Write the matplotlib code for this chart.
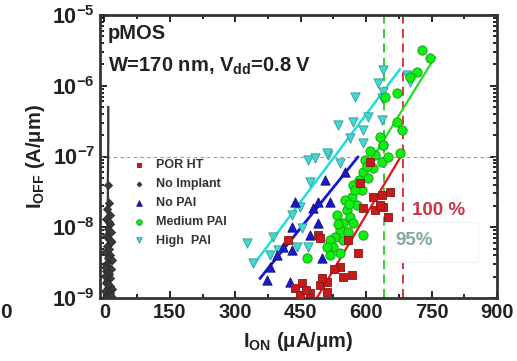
import numpy as np
import matplotlib.pyplot as plt
from matplotlib.patches import Rectangle

plt.rcParams['font.family'] = ['Liberation Sans', 'DejaVu Sans']
plt.rcParams['font.weight'] = 'bold'
plt.rcParams['mathtext.fontset'] = 'custom'
plt.rcParams['mathtext.bf'] = 'Liberation Sans:bold'
plt.rcParams['mathtext.rm'] = 'Liberation Sans:bold'

# POR HT
por_x = [421, 490, 453, 472, 495, 511, 655, 637, 616, 586, 593, 621, 639, 650, 632, 582, 540,
         568, 547, 511, 499, 559, 609, 495, 437, 449, 527, 463]
por_y = [6.6e-9, 7.8e-9, 1.63e-9, 1.18e-9, 1.53e-9, 1.22e-9, 3.15e-8, 2.86e-8, 2.68e-8, 4.2e-8,
         1.87e-8, 1.75e-8, 1.93e-8, 1.4e-8, 2.06e-8, 4.3e-9, 2.74e-9, 2.1e-9, 2.0e-9, 1.68e-9,
         1.92e-9, 6.6e-9, 8.4e-8, 7.0e-9, 1.4e-9, 1.1e-9, 2.6e-9, 1.3e-9]
# No Implant
ni_x = [9, 9, 8, 10, 6, 14, 3, 12, 8, 16, 4, 10, 15, 6, 11, 2, 13, 8, 17, 5, 9, 15, 4, 11, 1,
        14, 7, 3, 12, 9, 18, 2, 13, 6, 16, 4, 10, 15, 1, 8]
ni_y = [5e-7, 1.7e-7, 4e-8, 2.2e-8, 1.8e-8, 1.5e-8, 1.3e-8, 1.1e-8, 9.5e-9, 8.5e-9, 7.5e-9, 6.8e-9,
        6.1e-9, 5.5e-9, 5.0e-9, 4.5e-9, 4.1e-9, 3.7e-9, 3.4e-9, 3.1e-9, 2.85e-9, 2.6e-9, 2.4e-9,
        2.2e-9, 2.05e-9, 1.9e-9, 1.75e-9, 1.62e-9, 1.5e-9, 1.4e-9, 1.32e-9, 1.25e-9, 1.18e-9,
        1.12e-9, 1.08e-9, 1.04e-9, 1.2e-8, 6.3e-9, 2.7e-9, 1.6e-9]
# No PAI
np_x = [506, 437, 490, 479, 430, 472, 410, 430, 380, 396, 426, 373, 490, 552, 518, 499]
np_y = [4.7e-8, 2.28e-8, 2.28e-8, 1.87e-8, 1.0e-8, 7.8e-9, 5.3e-9, 4.8e-9, 2.74e-9, 4.05e-9,
        1.68e-9, 1.8e-9, 1.15e-8, 6.0e-8, 2.28e-8, 3.7e-9]
# Medium PAI
mp_x = [678, 639, 621, 637, 616, 593, 605, 570, 591, 568, 579, 556, 563, 547, 570, 540, 559, 529,
        547, 518, 524, 540, 511, 593, 518, 465, 728, 746, 717, 701, 671, 643, 682, 671, 632, 639,
        552, 533, 575, 598, 609, 650, 584, 561, 536, 602]
mp_y = [1.12e-7, 1.45e-7, 1.05e-7, 8.4e-8, 6.9e-8, 6.0e-8, 5.0e-8, 4.0e-8, 3.4e-8, 2.68e-8,
        2.06e-8, 1.75e-8, 1.4e-8, 1.15e-8, 1.15e-8, 9.1e-9, 8.6e-9, 7.3e-9, 6.6e-9, 6.6e-9,
        5.3e-9, 4.3e-9, 5.3e-9, 7.8e-9, 4.05e-9, 3.7e-9, 3.2e-6, 2.47e-6, 1.56e-6, 1.33e-6,
        7.9e-7, 6.9e-7, 2.37e-7, 3.1e-7, 1.89e-7, 1.45e-7,
        2.4e-8, 1.49e-8, 3.4e-8, 8.9e-8, 1.2e-7, 9.8e-8, 4.6e-8, 2.1e-8, 1.1e-8, 7.4e-8]
# High PAI
hp_x = [467, 483, 513, 472, 449, 430, 453, 387, 327, 398, 380, 341, 467, 442, 639, 694, 701, 627,
        639, 575, 637, 570, 536, 605, 637, 593, 563, 593, 511, 540]
hp_y = [8.9e-8, 9.5e-8, 1.05e-7, 4.4e-8, 1.93e-8, 1.49e-8, 9.8e-9, 7.3e-9, 6.0e-9, 4.8e-9, 4.05e-9,
        3.1e-9, 5.3e-9, 5.3e-9, 1.67e-6, 1.42e-6, 1.13e-6, 1.09e-6, 8.2e-7, 6.9e-7, 6.7e-7, 3.1e-7,
        2.8e-7, 3.6e-7, 3.3e-7, 2.37e-7, 1.83e-7, 1.55e-7, 1.12e-7, 8.0e-8]

# fit lines (end points)
fit_por = ([487, 687], [1.0e-9, 1.2e-7])
fit_np = ([357, 581], [1.9e-9, 9.8e-8])
fit_mp = ([595, 757], [6.0e-8, 2.5e-6])
fit_hp = ([341, 677], [2.9e-9, 1.7e-6])

fig = plt.figure(figsize=(5.17, 3.61), dpi=100)
ax = fig.add_axes([100 / 517, 1 - 298 / 361, 397 / 517, 283 / 361])

ax.axhline(1e-7, color='#999999', ls=(0, (3, 3)), lw=0.8)
ax.axvline(640, color='#22cc22', ls=(0, (5, 3)), lw=1.3)
ax.axvline(684, color='#dd2233', ls=(0, (5, 3)), lw=1.3)
ax.add_patch(Rectangle((644, 3.2e-9), 212, 1.19e-8 - 3.2e-9, fc='white', ec='#f2f2f2', lw=0.8,
                       zorder=2.5))

ax.plot(ni_x[:3] + [8, 7], ni_y[:3] + [2e-9, 1e-9], '-', color='#333333', lw=1.6)
ax.plot(ni_x, ni_y, '-', color='#3a3a3a', lw=1.0)
ax.plot(*fit_por, color='#ee1111', lw=1.6)
ax.plot(*fit_np, color='#1515dd', lw=2)
ax.plot(*fit_mp, color='#22dd22', lw=1.6)
ax.plot(*fit_hp, color='#22dddd', lw=1.8)
ax.scatter(ni_x[2:], ni_y[2:], marker='D', s=18, c='#3a3a3a', edgecolors='#2a2a2a', lw=0.5,
           label='No Implant', zorder=3)
ax.scatter(hp_x, hp_y, marker='v', s=45, c='#40d8d0', edgecolors='#3a9a9a', lw=0.6, label='High  PAI', zorder=3)
ax.scatter(np_x, np_y, marker='^', s=45, c='#1a1acc', edgecolors='#101070', lw=0.6, label='No PAI', zorder=3)
ax.scatter(mp_x, mp_y, marker='o', s=45, c='#11ee11', edgecolors='#119911', lw=0.6, label='Medium PAI', zorder=4)
ax.scatter(por_x, por_y, marker='s', s=32, c='#c81a1a', edgecolors='#881515', lw=0.6, label='POR HT', zorder=5)

ax.set_yscale('log')
ax.set_xlim(-10, 900)
ax.set_ylim(1e-9, 1e-5)
ax.set_xticks([0, 150, 300, 450, 600, 750, 900])
ax.set_xticks(np.arange(75, 900, 150), minor=True)
ax.tick_params(which='both', direction='in', top=True, right=True, labelsize=14.5, width=1.2,
               labelcolor='#222222')
ax.tick_params(which='major', length=5)
ax.tick_params(which='minor', length=3)
for lab in ax.get_xticklabels():
    lab.set_fontweight('bold')
ax.set_yticks([1e-9, 1e-8, 1e-7, 1e-6, 1e-5])
ax.set_yticklabels([r'$\mathbf{10^{-9}}$', r'$\mathbf{10^{-8}}$', r'$\mathbf{10^{-7}}$',
                    r'$\mathbf{10^{-6}}$', r'$\mathbf{10^{-5}}$'], fontsize=15.5)
for s in ax.spines.values():
    s.set_linewidth(2)
    s.set_color('#333333')

ax.set_xlabel(r'$\mathbf{I_{ON}}$ ($\mathbf{\mu}$A/$\mathbf{\mu}$m)', fontsize=14.5, fontweight='bold',
              color='#222222', labelpad=6)
ax.set_ylabel(r'$\mathbf{I_{OFF}}$ (A/$\mathbf{\mu}$m)', fontsize=14.5, fontweight='bold',
              color='#222222', labelpad=4)

ax.text(0.02, 0.915, 'pMOS', transform=ax.transAxes, fontsize=14.5, fontweight='bold', color='#222222')
ax.text(0.02, 0.80, r'W=170 nm, V$\mathbf{_{dd}}$=0.8 V', transform=ax.transAxes, fontsize=14.5,
        fontweight='bold', color='#222222')
ax.text(705, 1.75e-8, '100 %', color='#d03545', fontsize=13.5, fontweight='bold', va='center')
ax.text(668, 6.4e-9, '95%', color='#80aa9a', fontsize=13.5, va='center', zorder=3)

handles, labels = ax.get_legend_handles_labels()
order = ['POR HT', 'No Implant', 'No PAI', 'Medium PAI', 'High  PAI']
hmap = dict(zip(labels, handles))
leg = ax.legend([hmap[k] for k in order], order, loc='upper left', bbox_to_anchor=(0.05, 0.53),
                frameon=False, markerscale=0.6, handlelength=1.2, labelspacing=0.55,
                prop={'weight': 'bold', 'size': 9})
for t in leg.get_texts():
    t.set_color('#333333')

fig.text(6 / 517, 1 - 318 / 361, '0', fontsize=15, fontweight='bold', color='#222222', ha='center')

fig.savefig('out.png', dpi=100)
